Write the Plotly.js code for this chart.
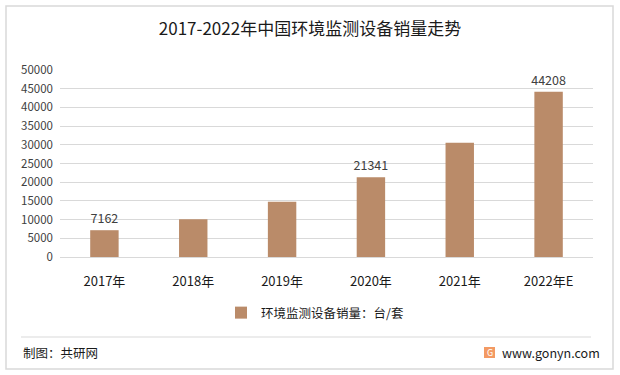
<!DOCTYPE html>
<html>
<head>
<meta charset="utf-8">
<script src="https://cdn.plot.ly/plotly-3.0.1.min.js"></script>
<style>html,body{margin:0;padding:0;background:#fff;}#chart{width:620px;height:375px;}</style>
</head>
<body>
<div id="chart"></div>
<script>
const categories = ['2017年', '2018年', '2019年', '2020年', '2021年', '2022年E'];
const sales = [7162, 10100, 14750, 21341, 30560, 44208];
const shownLabels = ['7162', '', '', '21341', '', '44208'];
const seriesName = '环境监测设备销量：台/套';
const titleText = '2017-2022年中国环境监测设备销量走势';
const sourceText = '制图：共研网';
const siteText = 'www.gonyn.com';

const W = 620, H = 375;
const M = {l: 60, r: 27, t: 70, b: 118};
const pw = W - M.l - M.r, ph = H - M.t - M.b;
const px = x => (x - M.l) / pw;
const py = y => (H - M.b - y) / ph;
const FONT = '"Noto Sans CJK SC", "Noto Sans", sans-serif';

const trace = {
  type: 'bar',
  x: categories,
  y: sales,
  name: seriesName,
  marker: {color: '#BA8B69'},
  text: shownLabels,
  textposition: 'outside',
  constraintext: 'none',
  textfont: {size: 12.5, color: '#404040', family: FONT},
  cliponaxis: false,
  hoverinfo: 'x+y'
};

const layout = {
  width: W, height: H,
  margin: M,
  paper_bgcolor: '#ffffff',
  plot_bgcolor: '#ffffff',
  font: {family: FONT, color: '#404040', size: 12},
  title: {text: titleText, x: 0.5, xanchor: 'center', y: 1 - 29/H, yanchor: 'middle', font: {size: 17, color: '#1a1a1a', family: FONT}},
  bargap: 0.68,
  xaxis: {
    type: 'category',
    showgrid: false,
    showline: true, linecolor: '#d9d9d9', linewidth: 1,
    ticks: '',
    tickfont: {size: 13, color: '#1a1a1a', family: FONT},
    ticklabelstandoff: 12
  },
  yaxis: {
    range: [0, 50000],
    dtick: 5000,
    showgrid: true, gridcolor: '#d9d9d9', gridwidth: 1,
    zeroline: true, zerolinecolor: '#d9d9d9',
    showline: false,
    ticks: '',
    tickformat: 'd',
    tickfont: {size: 11.5, color: '#404040', family: FONT},
    ticklabelstandoff: 6
  },
  showlegend: true,
  legend: {
    orientation: 'h',
    x: px(315), xanchor: 'center',
    y: py(313), yanchor: 'middle',
    font: {size: 12.5, color: '#1a1a1a', family: FONT},
    itemwidth: 30
  },
  shapes: [
    {type: 'rect', xref: 'paper', yref: 'paper', x0: px(6), x1: px(613), y0: py(369), y1: py(6), line: {color: '#d9d9d9', width: 1.5}, fillcolor: 'rgba(0,0,0,0)', layer: 'below'},
    {type: 'line', xref: 'paper', yref: 'paper', x0: px(21), x1: px(591), y0: py(337), y1: py(337), line: {color: '#d9d9d9', width: 1}},
    {type: 'rect', xref: 'paper', yref: 'paper', x0: px(484), x1: px(495), y0: py(358), y1: py(347), line: {width: 0}, fillcolor: '#F39A63'}
  ],
  annotations: [
    {text: sourceText, xref: 'paper', yref: 'paper', x: px(21), y: py(352), xanchor: 'left', yanchor: 'middle', showarrow: false, font: {size: 12.5, color: '#1a1a1a', family: FONT}},
    {text: siteText, xref: 'paper', yref: 'paper', x: px(500), y: py(352), xanchor: 'left', yanchor: 'middle', showarrow: false, font: {size: 12.5, color: '#1a1a1a', family: FONT}},
    {text: 'G', xref: 'paper', yref: 'paper', x: px(489.5), y: py(352.5), xanchor: 'center', yanchor: 'middle', showarrow: false, font: {size: 9, color: '#ffffff', family: FONT}}
  ]
};

Plotly.newPlot('chart', [trace], layout, {displayModeBar: false, staticPlot: true});
</script>
</body>
</html>
